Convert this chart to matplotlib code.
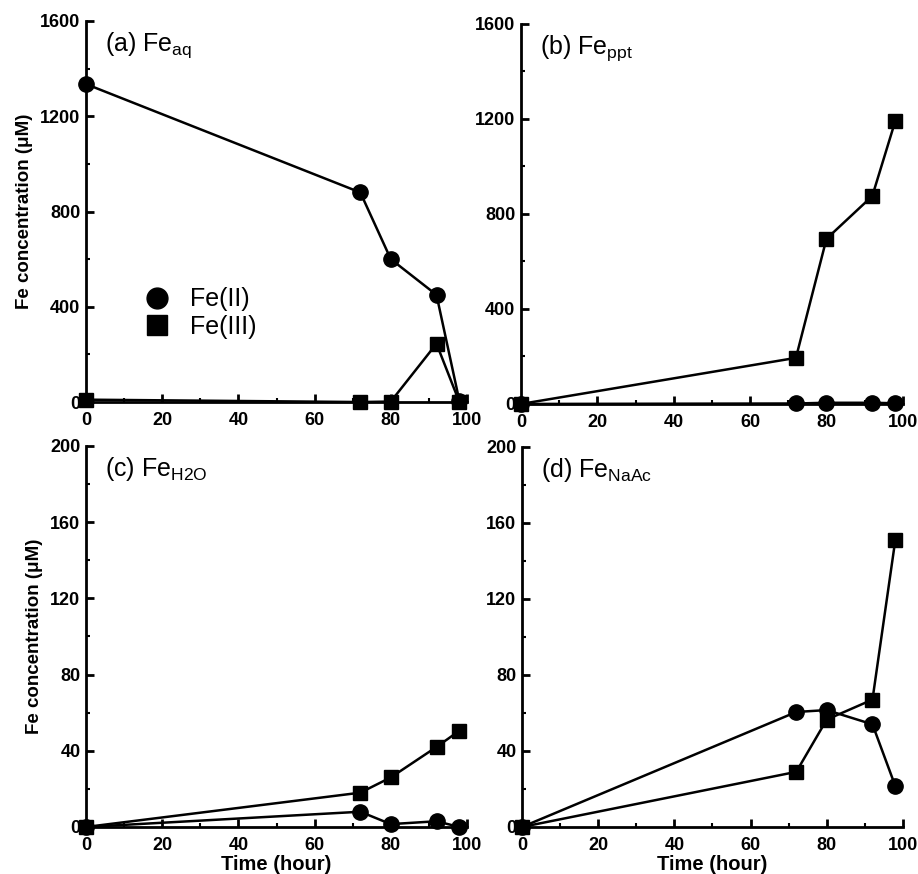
import matplotlib
matplotlib.use('Agg')
import matplotlib.pyplot as plt
from matplotlib.ticker import MultipleLocator
from matplotlib.lines import Line2D

plt.rcParams['font.family'] = ['Liberation Sans', 'DejaVu Sans']
plt.rcParams['mathtext.fontset'] = 'custom'
plt.rcParams['mathtext.rm'] = 'Liberation Sans'

# sampling times (hour)
time = [0, 72, 80, 92, 98]

# (a) Fe_aq
aq_fe2 = [1335, 880, 600, 450, 5]
aq_fe3 = [10, 0, 2, 245, 0]
# (b) Fe_ppt
ppt_fe2 = [0, 2, 5, 5, 3]
ppt_fe3 = [0, 194, 695, 875, 1190]
# (c) Fe_H2O
h2o_fe2 = [0, 8, 1.5, 3, 0]
h2o_fe3 = [0, 18, 26, 42, 50.5]
# (d) Fe_NaAc
naac_fe2 = [0, 60.5, 61.5, 54, 21.5]
naac_fe3 = [0, 29, 56.5, 67, 151]

panels = [
    ('(a) Fe$_{\\rm aq}$', aq_fe2, aq_fe3, 1600, 400, [0.0937, 0.540, 0.415, 0.436]),
    ('(b) Fe$_{\\rm ppt}$', ppt_fe2, ppt_fe3, 1600, 400, [0.5675, 0.5378, 0.416, 0.435]),
    ('(c) Fe$_{\\rm H2O}$', h2o_fe2, h2o_fe3, 200, 40, [0.0937, 0.0538, 0.415, 0.436]),
    ('(d) Fe$_{\\rm NaAc}$', naac_fe2, naac_fe3, 200, 40, [0.5686, 0.0538, 0.415, 0.435]),
]

fig = plt.figure(figsize=(9.18, 8.74), dpi=100)

for i, (title, fe2, fe3, ymax, ystep, rect) in enumerate(panels):
    ax = fig.add_axes(rect)
    ax.plot(time, fe2, '-o', color='black', lw=1.8, ms=11, clip_on=False, zorder=3)
    ax.plot(time, fe3, '-s', color='black', lw=1.8, ms=10.5, clip_on=False, zorder=3)
    ax.set_xlim(0, 100)
    ax.set_ylim(0, ymax)
    ax.xaxis.set_major_locator(MultipleLocator(20))
    ax.xaxis.set_minor_locator(MultipleLocator(10))
    ax.yaxis.set_major_locator(MultipleLocator(ystep))
    ax.yaxis.set_minor_locator(MultipleLocator(ystep / 2))
    ax.spines['top'].set_visible(False)
    ax.spines['right'].set_visible(False)
    ax.spines['left'].set_linewidth(2)
    ax.spines['bottom'].set_linewidth(2)
    ax.tick_params(which='major', direction='in', length=6, width=2, labelsize=13)
    ax.tick_params(axis='x', which='major', pad=7)
    ax.tick_params(axis='y', which='major', pad=4)
    ax.tick_params(which='minor', direction='in', length=3, width=1.5)
    for lab in ax.get_xticklabels() + ax.get_yticklabels():
        lab.set_fontweight('bold')
    ax.text(0.05, 0.975, title, transform=ax.transAxes, fontsize=18, va='top', ha='left')
    if i % 2 == 0:
        ax.set_ylabel('Fe concentration (μM)', fontsize=13.5, fontweight='bold', labelpad=5)
    if i >= 2:
        ax.set_xlabel('Time (hour)', fontsize=14.5, fontweight='bold', labelpad=1)
    if i == 0:
        handles = [Line2D([], [], ls='none', marker='o', color='black', ms=15),
                   Line2D([], [], ls='none', marker='s', color='black', ms=14)]
        ax.legend(handles, ['Fe(II)', 'Fe(III)'], loc='upper left', bbox_to_anchor=(0.095, 0.36),
                  frameon=False, fontsize=18, handlelength=1.0, handletextpad=0.8,
                  labelspacing=0.15)

fig.savefig('out.png', dpi=100)
